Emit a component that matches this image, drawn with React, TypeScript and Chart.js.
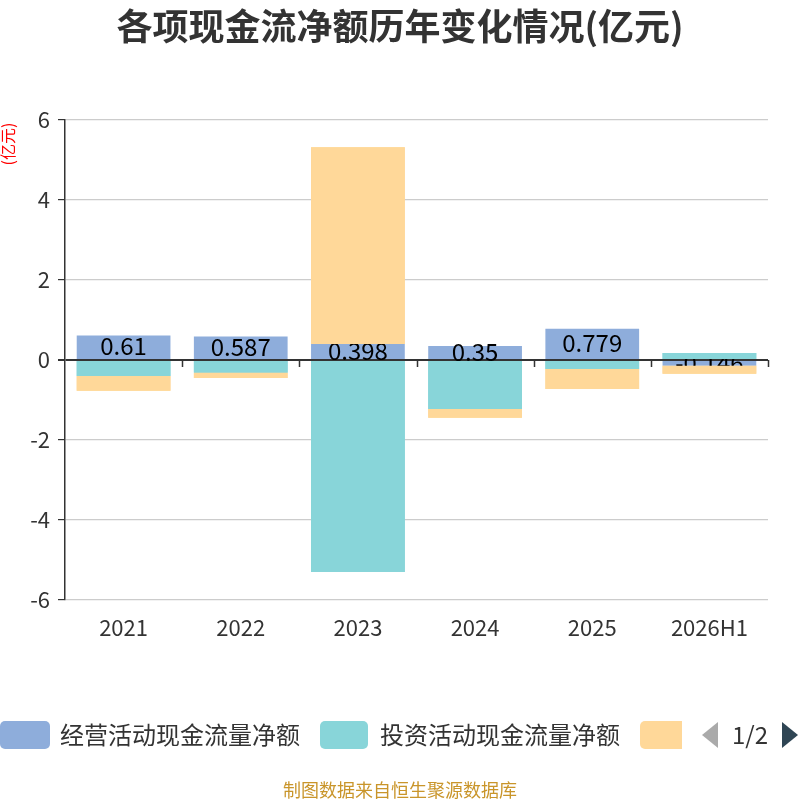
import React, { useEffect, useRef } from 'react';
import { Chart, registerables } from 'chart.js';

Chart.register(...registerables);

const FONT = '"Noto Sans CJK SC", "Noto Sans", sans-serif';

const years = ['2021', '2022', '2023', '2024', '2025', '2026H1'];
const operating = [0.61, 0.587, 0.398, 0.35, 0.779, -0.146];
const investing = [-0.4, -0.32, -5.3, -1.225, -0.225, 0.175];
const financing = [-0.37, -0.13, 4.92, -0.217, -0.5, -0.2];
const seriesNames = ['经营活动现金流量净额', '投资活动现金流量净额', '筹资活动现金流量净额'];
const seriesColors = ['#8eaddb', '#88d5d9', '#ffd899'];
const yTicks = [-6, -4, -2, 0, 2, 4, 6];

// labels for the first series, then the other bars drawn again over them
const overlayPlugin = {
  id: 'overlay',
  afterDatasetsDraw(chart: any) {
    const ctx = chart.ctx;
    const meta = chart.getDatasetMeta(0);
    ctx.save();
    ctx.font = `24px ${FONT}`;
    ctx.fillStyle = '#000';
    ctx.textAlign = 'center';
    ctx.textBaseline = 'middle';
    meta.data.forEach((el: any, i: number) => {
      ctx.fillText(String(operating[i]), el.x, (el.y + el.base) / 2 - 1);
    });
    ctx.restore();
    chart.getDatasetMeta(1).controller.draw();
    chart.getDatasetMeta(2).controller.draw();

    // category ticks on the zero line
    const x = chart.scales.x;
    const y0 = chart.scales.y.getPixelForValue(0);
    const step = (x.right - x.left) / years.length;
    ctx.save();
    ctx.strokeStyle = '#333';
    ctx.lineWidth = 1.5;
    ctx.beginPath();
    for (let i = 1; i <= years.length; i++) {
      const px = Math.round(x.left + step * i) + 0.5;
      ctx.moveTo(px, y0);
      ctx.lineTo(px, y0 + 7);
    }
    ctx.stroke();
    ctx.restore();
  },
  afterDraw(chart: any) {
    const ctx = chart.ctx;
    ctx.save();
    ctx.fillStyle = '#333';
    ctx.font = `bold 36px ${FONT}`;
    ctx.textAlign = 'center';
    ctx.textBaseline = 'middle';
    ctx.fillText('各项现金流净额历年变化情况(亿元)', 400, 26);
    ctx.translate(8, 144);
    ctx.rotate(-Math.PI / 2);
    ctx.fillStyle = '#f00';
    ctx.font = `16px ${FONT}`;
    ctx.fillText('(亿元)', 0, 0);
    ctx.restore();
  },
};

const ChartCanvas: React.FC = () => {
  const canvasRef = useRef<HTMLCanvasElement>(null);

  useEffect(() => {
    if (!canvasRef.current) return;
    const values = [operating, investing, financing];
    const chart = new Chart(canvasRef.current, {
      type: 'bar',
      data: {
        labels: years,
        datasets: values.map((v, i) => ({
          label: seriesNames[i],
          data: v,
          backgroundColor: seriesColors[i],
          borderWidth: 0,
          categoryPercentage: 0.8,
          barPercentage: 1,
        })),
      },
      options: {
        animation: false,
        responsive: false,
        layout: { padding: { top: 120, left: 0, right: 32, bottom: 0 } },
        plugins: {
          legend: { display: false },
          title: { display: false },
          tooltip: { enabled: false },
        },
        scales: {
          x: {
            stacked: true,
            grid: { display: false },
            border: { display: false },
            ticks: { color: '#333', padding: 6, font: { size: 22, family: FONT } },
            afterFit: (s: any) => { s.height = 200; },
          },
          y: {
            stacked: true,
            min: -6,
            max: 6,
            afterBuildTicks: (s: any) => { s.ticks = yTicks.map((v) => ({ value: v })); },
            afterFit: (s: any) => { s.width = 65; },
            border: { color: '#333', width: 1.5 },
            grid: {
              color: (c: any) => (c.tick && c.tick.value === 0 ? '#333' : '#ccc'),
              lineWidth: (c: any) => (c.tick && c.tick.value === 0 ? 2 : 1.2),
              tickColor: '#333',
              tickLength: 7,
            },
            ticks: { color: '#333', padding: 8, font: { size: 22, family: FONT } },
          },
        },
      },
      plugins: [overlayPlugin],
    });
    return () => chart.destroy();
  }, []);

  return <canvas ref={canvasRef} width={800} height={800} style={{ width: 800, height: 800, display: 'block' }} />;
};

const box = (color: string, left: number, width: number): React.CSSProperties => ({
  position: 'absolute', left, top: 721, width, height: 28, borderRadius: 5, background: color,
});
const legendText = (left: number): React.CSSProperties => ({
  position: 'absolute', left, top: 717, fontSize: 24, lineHeight: '34px', color: '#333', fontFamily: FONT, whiteSpace: 'nowrap',
});

export default function App() {
  return (
    <div style={{ position: 'absolute', left: 0, top: 0, width: 800, height: 800, overflow: 'hidden', background: '#fff' }}>
      <ChartCanvas />
      <div style={box(seriesColors[0], 0, 50)} />
      <div style={legendText(60)}>{seriesNames[0]}</div>
      <div style={box(seriesColors[1], 320, 48)} />
      <div style={legendText(380)}>{seriesNames[1]}</div>
      <div style={{ ...box(seriesColors[2], 640, 42), borderRadius: '5px 0 0 5px' }} />
      <div style={{ position: 'absolute', left: 702, top: 722, width: 0, height: 0, borderTop: '13px solid transparent', borderBottom: '13px solid transparent', borderRight: '16px solid #aaa' }} />
      <div style={{ position: 'absolute', left: 732, top: 717, fontSize: 24, lineHeight: '34px', color: '#333', fontFamily: FONT }}>1/2</div>
      <div style={{ position: 'absolute', left: 782, top: 722, width: 0, height: 0, borderTop: '13px solid transparent', borderBottom: '13px solid transparent', borderLeft: '16px solid #2f4554' }} />
      <div style={{ position: 'absolute', left: 0, width: 800, top: 777, textAlign: 'center', fontSize: 18, lineHeight: '24px', color: '#c9952a', fontFamily: FONT }}>制图数据来自恒生聚源数据库</div>
    </div>
  );
}
